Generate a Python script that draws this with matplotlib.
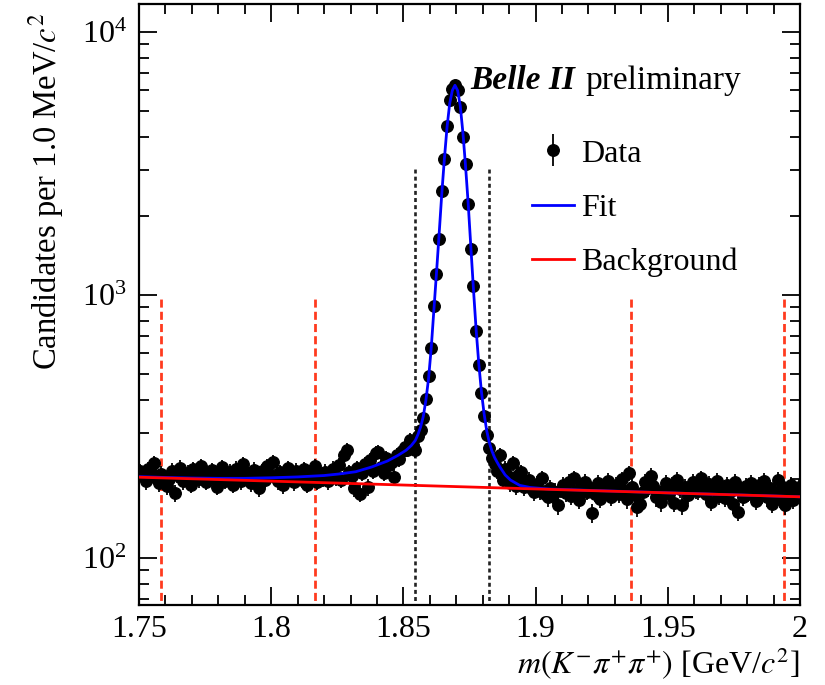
import matplotlib
matplotlib.use("Agg")
import matplotlib.pyplot as plt
from matplotlib.ticker import MultipleLocator, FixedLocator, LogLocator, NullFormatter
import numpy as np

plt.rcParams['font.family'] = ['Liberation Serif', 'DejaVu Serif']
plt.rcParams['mathtext.fontset'] = 'stix'

# binning of the m(K pi pi) histogram
mass_lo = 1.75
bin_width = 0.001

# candidates per 1 MeV bin
counts = [
    214, 205, 196, 218, 212, 230, 201, 193, 209, 204,
    188, 199, 215, 177, 207, 221, 196, 203, 211, 190,
    218, 206, 199, 224, 212, 195, 208, 216, 201, 187,
    209, 222, 197, 205, 213, 190, 219, 204, 196, 227,
    211, 200, 193, 217, 206, 184, 214, 198, 223, 207,
    232, 203, 196, 212, 189, 209, 220, 201, 194, 215,
    206, 198, 218, 190, 211, 203, 224, 195, 209, 200,
    213, 196, 207, 219, 202, 225, 198, 246, 258, 212,
    205, 185, 220, 176, 211, 228, 186, 236, 214, 251,
    253, 222, 210, 240, 226, 231, 203, 246, 238, 255,
    264, 258, 281, 270, 257, 290, 307, 340, 403, 492,
    627, 908, 1200, 1640, 2480, 3280, 4400, 5510, 6080, 6320,
    6050, 5180, 4000, 3140, 2230, 1500, 1080, 731, 542, 425,
    347, 294, 262, 240, 228, 214, 246, 198, 219, 205,
    193, 230, 188, 207, 212, 186, 196, 198, 183, 178,
    191, 180, 201, 176, 170, 185, 174, 179, 159, 182,
    190, 177, 194, 172, 201, 181, 166, 188, 195, 179,
    184, 148, 176, 193, 168, 187, 179, 196, 171, 184,
    190, 175, 199, 182, 167, 210, 186, 173, 156, 161,
    178, 195, 184, 205, 188, 170, 172, 163, 181, 193,
    176, 189, 162, 198, 183, 159, 187, 174, 179, 194,
    181, 180, 201, 186, 175, 192, 164, 183, 197, 172,
    185, 169, 190, 178, 160, 194, 150, 181, 171, 188,
    176, 193, 182, 165, 189, 174, 196, 170, 184, 161,
    179, 198, 168, 186, 159, 175, 190, 166, 180, 187,
]

# total fit curve (signal + background)
fit_mass = [1.7500, 1.7600, 1.7700, 1.7800, 1.7900, 1.8000, 1.8100, 1.8200,
            1.8260, 1.8320, 1.8380, 1.8440, 1.8480, 1.8510, 1.8530, 1.8545,
            1.8555, 1.8565, 1.8575, 1.8585, 1.8595, 1.8605, 1.8615, 1.8625,
            1.8635, 1.8645, 1.8655, 1.8665, 1.8675, 1.8685, 1.8695, 1.8705,
            1.8715, 1.8725, 1.8735, 1.8745, 1.8755, 1.8765, 1.8775, 1.8785,
            1.8795, 1.8805, 1.8815, 1.8825, 1.8835, 1.8845, 1.8855, 1.8865,
            1.8885, 1.8905, 1.8940, 1.8980, 1.9050, 1.9500, 2.0000]
fit_value = [204, 202.5, 201.5, 201, 201, 202, 203.5, 206,
             209, 213, 222, 234, 246, 257, 268, 280,
             295, 315, 345, 398, 480, 625, 870, 1210,
             1700, 2420, 3300, 4350, 5350, 6000, 6280, 6000,
             5250, 4150, 3100, 2230, 1530, 1050, 740, 550,
             430, 355, 305, 275, 255, 241, 231, 222,
             207, 198, 189, 185.5, 183, 177, 171]

# combinatorial background component
bkg_mass = [1.75, 2.0]
bkg_value = [203, 171]

# sideband and signal window boundaries
sideband_edges = [1.7583, 1.8166, 1.9361, 1.9939]
sideband_top = 1000
signal_edges = [1.8544, 1.8824]
signal_top = 3100

xtick_vals = [1.75, 1.80, 1.85, 1.90, 1.95, 2.00]
xtick_labels = ['1.75', '1.8', '1.85', '1.9', '1.95', '2']
ytick_vals = [1e2, 1e3, 1e4]
ytick_labels = [r'$\mathregular{10^{2}}$', r'$\mathregular{10^{3}}$', r'$\mathregular{10^{4}}$']

counts = np.array(counts, dtype=float)
centres = mass_lo + bin_width * (np.arange(len(counts)) + 0.5)

fig = plt.figure(figsize=(8.25, 6.85), dpi=100)
ax = fig.add_axes([0.1685, 0.1168, 0.8012, 0.8774])

data = ax.errorbar(centres, counts, yerr=np.sqrt(counts), fmt='o', color='black',
                   ms=8.3, elinewidth=1.3, capsize=0, zorder=3)

ax.vlines(sideband_edges, 10, sideband_top, colors='#ff3b1f', linestyles=(0, (2.9, 1.5)),
          linewidth=2.0, zorder=2)
ax.vlines(signal_edges, 10, signal_top, colors='#222222', linestyles=(0, (1.5, 1.2)),
          linewidth=1.9, zorder=2)

fit_line, = ax.plot(fit_mass, fit_value, color='#0000ff', lw=2.0, zorder=4)
bkg_line, = ax.plot(bkg_mass, bkg_value, color='#ff0000', lw=2.0, zorder=5)

ax.set_yscale('log')
ax.set_xlim(1.75, 2.0)
ax.set_ylim(66.3, 12800)

ax.xaxis.set_major_locator(FixedLocator(xtick_vals))
ax.set_xticklabels(xtick_labels)
ax.xaxis.set_minor_locator(MultipleLocator(0.01))
ax.yaxis.set_major_locator(FixedLocator(ytick_vals))
ax.set_yticklabels(ytick_labels)
ax.yaxis.set_minor_locator(LogLocator(base=10, subs=np.arange(2, 10)))
ax.yaxis.set_minor_formatter(NullFormatter())

ax.tick_params(which='both', direction='in', top=True, right=True, width=1.3,
               labelsize=23)
ax.tick_params(which='major', length=13)
ax.tick_params(which='minor', length=7)
ax.tick_params(axis='x', pad=7)
ax.tick_params(axis='y', pad=9)
for s in ax.spines.values():
    s.set_linewidth(1.6)

ax.set_xlabel(r'$m(K^{-}\pi^{+}\pi^{+})$ [GeV/$c^{2}$]', fontsize=23, loc='right')
ax.xaxis.set_label_coords(1.0, -0.068)
ax.set_ylabel(r'Candidates per 1.0 MeV/$c^{2}$', fontsize=23.5, loc='top')
ax.yaxis.set_label_coords(-0.110, 0.985)

ax.text(0.501, 0.858, 'Belle II', transform=ax.transAxes, fontsize=24,
        fontweight='bold', fontstyle='italic')
ax.text(0.675, 0.858, 'preliminary', transform=ax.transAxes, fontsize=24)

ax.legend([data, fit_line, bkg_line], ['Data', 'Fit', 'Background'],
          loc='upper left', bbox_to_anchor=(0.5946, 0.775), frameon=False,
          fontsize=23, handlelength=1.3, handletextpad=0.25, labelspacing=0.78,
          borderpad=0, borderaxespad=0)

fig.savefig('out.png', dpi=100)
